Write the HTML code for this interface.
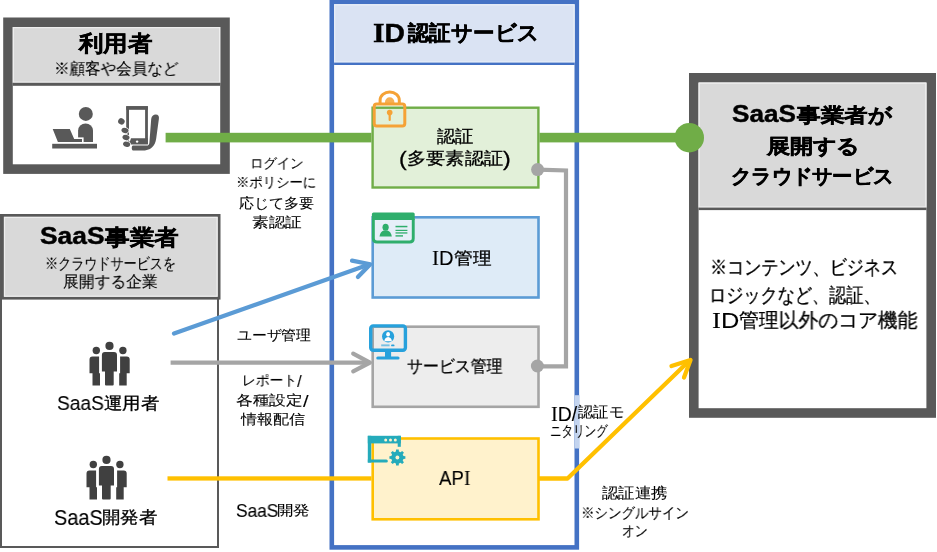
<!DOCTYPE html>
<html lang="ja">
<head>
<meta charset="utf-8">
<style>
html,body{margin:0;padding:0;background:#fff;}
body{width:937px;height:552px;position:relative;overflow:hidden;font-family:"Liberation Sans",sans-serif;color:#262626;}
svg{position:absolute;left:0;top:0;}
.t{will-change:transform;position:absolute;white-space:nowrap;line-height:1;transform-origin:0 0;color:#000;-webkit-text-stroke:0.1px #000;}
.b{font-weight:bold;color:#000;-webkit-text-stroke:0.45px #000;}
.s{font-family:"Liberation Serif",serif;font-size:1.05em;}
.p{font-size:1.2em;position:relative;top:0.1em;}
</style>
</head>
<body>
<svg width="937" height="552" viewBox="0 0 937 552">
  <!-- 利用者 box -->
  <rect x="8" y="22.3" width="217" height="146.8" fill="#fff" stroke="#595959" stroke-width="9.6"/>
  <rect x="12.8" y="27" width="207.4" height="56" fill="#d9d9d9"/>
  <rect x="13.4" y="27.6" width="206.2" height="54.6" fill="none" stroke="#eeeeee" stroke-width="1.2"/>
  <rect x="12.8" y="82.8" width="207.4" height="3" fill="#595959"/>

  <!-- SaaS事業者 box -->
  <rect x="1" y="215" width="217" height="332" fill="#fff" stroke="#595959" stroke-width="2"/>
  <rect x="2.5" y="215.4" width="216.6" height="82.8" fill="#d9d9d9" stroke="#595959" stroke-width="2.8"/>
  <rect x="4.5" y="217.4" width="212.6" height="78.8" fill="none" stroke="#eeeeee" stroke-width="1.2"/>

  <!-- ID service column -->
  <rect x="331.8" y="2" width="245" height="545.4" fill="#fff" stroke="#4472c4" stroke-width="4.6"/>
  <rect x="334.1" y="4.3" width="240.5" height="58.3" fill="#dae3f3"/>
  <rect x="334.7" y="4.9" width="239.3" height="57.1" fill="none" stroke="#e8eef8" stroke-width="1.2"/>
  <rect x="334.1" y="62.6" width="240.5" height="2.4" fill="#4472c4"/>

  <!-- right box -->
  <rect x="693.8" y="77.8" width="237.4" height="335.2" fill="#fff" stroke="#595959" stroke-width="9.6"/>
  <rect x="698.6" y="82.6" width="227.8" height="125" fill="#d9d9d9"/>
  <rect x="699.2" y="83.2" width="226.6" height="123.8" fill="none" stroke="#eeeeee" stroke-width="1.2"/>
  <rect x="698.6" y="207.6" width="227.8" height="2.5" fill="#595959"/>

  <!-- service boxes -->
  <rect x="372.6" y="107.7" width="165.8" height="79.8" fill="#e2f0d9" stroke="#70ad47" stroke-width="2.4"/>
  <rect x="372.7" y="217.3" width="165.8" height="80.2" fill="#deebf7" stroke="#5b9bd5" stroke-width="2.6"/>
  <rect x="372.7" y="326.7" width="165.8" height="80.1" fill="#ededed" stroke="#a5a5a5" stroke-width="2.6"/>
  <rect x="372.7" y="438.5" width="165.8" height="80.8" fill="#fff2cc" stroke="#ffc000" stroke-width="2.6"/>

  <!-- green line -->
  <rect x="165.6" y="132.8" width="205.8" height="9.6" fill="#70ad47"/>
  <rect x="539.5" y="132.8" width="150" height="9.6" fill="#70ad47"/>
  <circle cx="689.3" cy="137.7" r="14.7" fill="#70ad47"/>

  <!-- gray connector -->
  <polyline points="537.6,169.6 566,170.5 566,366.4 537.4,366.4" fill="none" stroke="#a5a5a5" stroke-width="4.2"/>
  <circle cx="537.6" cy="169.6" r="6.5" fill="#a5a5a5"/>
  <circle cx="537.4" cy="366" r="6.5" fill="#a5a5a5"/>

  <!-- blue arrow -->
  <line x1="174" y1="333.6" x2="369" y2="264.6" stroke="#5b9bd5" stroke-width="4.2" stroke-linecap="round"/>
  <polyline points="352,260.6 370.3,264.2 357.9,277" fill="none" stroke="#5b9bd5" stroke-width="4.2" stroke-linecap="round" stroke-linejoin="round"/>

  <!-- gray arrow -->
  <line x1="170.6" y1="362.6" x2="369" y2="362.6" stroke="#a5a5a5" stroke-width="4.2"/>
  <polyline points="353.2,353.6 370,362.6 353.2,371.3" fill="none" stroke="#a5a5a5" stroke-width="4.2" stroke-linecap="round" stroke-linejoin="round"/>

  <!-- yellow lines -->
  <rect x="167.5" y="476.3" width="204" height="4.3" fill="#ffc000"/>
  <polyline points="539,478.5 567.5,478.5 689,361" fill="none" stroke="#ffc000" stroke-width="4.3" stroke-linejoin="round"/>
  <polyline points="671.5,366 690.5,360 684,377.5" fill="none" stroke="#ffc000" stroke-width="4.3" stroke-linecap="round" stroke-linejoin="round"/>

  <rect x="574.6" y="395.2" width="5" height="53.3" fill="#c3d4ef"/>
  <!-- person at laptop -->
  <g fill="#595959">
    <circle cx="85.8" cy="113.9" r="7"/>
    <path d="M78.1,141.9 V130.6 A7.45,7.2 0 0 1 93,130.6 V141.9 Z"/>
    <rect x="77" y="137.4" width="6.6" height="5.5" fill="#fff"/>
    <path d="M52.7,129 L69.8,129 L74.2,138.9 L82,138.9 L82,141.9 L57.9,141.9 Z"/>
    <rect x="52.2" y="143.8" width="44.8" height="4.7"/>
  </g>
  <!-- phone in hand -->
  <g fill="#595959">
    <rect x="127.6" y="107.6" width="18.9" height="35.3" fill="none" stroke="#595959" stroke-width="2.8"/>
    <rect x="126.2" y="106.2" width="21.7" height="3.6"/>
    <path d="M131,138.3 H147.9 V144.3 H129 Z"/>
    <circle cx="137.1" cy="141.6" r="1.2" fill="#fff"/>
    <path d="M155.8,114.6 C158.3,114.6 159.3,116.6 158.9,118.8 L156.2,138.5 C155.2,146.5 150.5,150.6 142,150.6 L133,150.6 C131.5,150.6 131.3,145.6 133,145.6 L146.5,145.6 C148.5,145.6 149.3,144.6 149.4,142.5 L151.2,119 C151.6,116.3 153.3,114.6 155.8,114.6 Z"/>
    <g stroke="#fff" stroke-width="1.4" paint-order="stroke">
      <ellipse cx="121.4" cy="121.4" rx="3.3" ry="3.1" transform="rotate(30 121.4 121.4)"/>
      <ellipse cx="125" cy="130.4" rx="3.6" ry="2.6" transform="rotate(15 125 130.4)"/>
      <ellipse cx="126" cy="137.4" rx="3.6" ry="2.6" transform="rotate(15 126 137.4)"/>
      <ellipse cx="126.6" cy="144.3" rx="3.6" ry="2.6" transform="rotate(15 126.6 144.3)"/>
    </g>
  </g>
  <!-- people icons -->
  <g fill="#404040">
    <circle cx="96.3" cy="350.5" r="3.7"/>
    <path d="M89.5,373.3 V359.4 Q89.5,356.4 92.5,356.4 H99.1 V373.3 H92.5 V385.5 H100 V373.3 Z"/>
    <circle cx="122.9" cy="350.5" r="3.7"/>
    <path d="M129.7,373.3 V359.4 Q129.7,356.4 126.7,356.4 H120.1 V373.3 H126.7 V385.5 H119.2 V373.3 Z"/>
    <circle cx="109.5" cy="345.9" r="4.1"/>
    <path d="M101.9,371.4 V355.1 Q101.9,352.1 104.9,352.1 H114 Q117,352.1 117,355.1 V371.4 H113.7 V384.5 Q113.7,385.5 112.7,385.5 H106 Q105,385.5 105,384.5 V371.4 Z" stroke="#fff" stroke-width="1.6" paint-order="stroke"/>
  </g>
  <g fill="#404040" transform="translate(-3 114)">
    <circle cx="96.3" cy="350.5" r="3.7"/>
    <path d="M89.5,373.3 V359.4 Q89.5,356.4 92.5,356.4 H99.1 V373.3 H92.5 V385.5 H100 V373.3 Z"/>
    <circle cx="122.9" cy="350.5" r="3.7"/>
    <path d="M129.7,373.3 V359.4 Q129.7,356.4 126.7,356.4 H120.1 V373.3 H126.7 V385.5 H119.2 V373.3 Z"/>
    <circle cx="109.5" cy="345.9" r="4.1"/>
    <path d="M101.9,371.4 V355.1 Q101.9,352.1 104.9,352.1 H114 Q117,352.1 117,355.1 V371.4 H113.7 V384.5 Q113.7,385.5 112.7,385.5 H106 Q105,385.5 105,384.5 V371.4 Z" stroke="#fff" stroke-width="1.6" paint-order="stroke"/>
  </g>

  <!-- lock icon -->
  <g stroke="#f5a236" fill="none">
    <path d="M380.1,103 V100.3 A9.6,8.3 0 0 1 399.3,100.3 V103" stroke-width="3"/>
    <rect x="374.2" y="103.9" width="30.6" height="22.2" rx="2.5" stroke-width="3"/>
  </g>
  <g fill="#f5a236">
    <path d="M385,104.5 V102 A4.7,4.7 0 0 1 394.4,102 V104.5 Z" opacity="0.85"/>
    <circle cx="389.7" cy="112.6" r="2.8"/>
    <path d="M388.6,113 H390.8 V120 Q390.8,121 389.7,121 Q388.6,121 388.6,120 Z"/>
  </g>

  <!-- ID card icon -->
  <g>
    <path d="M373.35,219 V238.5 Q373.35,242.05 377,242.05 H409.7 Q413.25,242.05 413.25,238.5 V219" fill="#e6eff9" stroke="#2fae6c" stroke-width="2.9"/>
    <path d="M371.9,220 V214 Q371.9,212.4 373.5,212.4 H413.1 Q414.7,212.4 414.7,214 V220 Z" fill="#2fae6c"/>
    <ellipse cx="385.6" cy="227.3" rx="3.1" ry="3.5" fill="#2fae6c"/>
    <path d="M379.5,236.6 Q380.2,231.8 383.8,230.6 L387.4,230.6 Q391,231.8 391.8,236.6 Z" fill="#2fae6c"/>
    <g fill="#2fae6c">
      <rect x="395.5" y="225.8" width="11.9" height="1.5"/>
      <rect x="395.5" y="229.8" width="11.9" height="1.2"/>
      <rect x="395.5" y="232.3" width="11.9" height="1.3"/>
      <rect x="395.5" y="235.2" width="7.5" height="1.4"/>
    </g>
  </g>

  <!-- monitor icon -->
  <g>
    <rect x="370.7" y="325.9" width="34.7" height="24.4" rx="2.5" fill="none" stroke="#27a1dc" stroke-width="3.4"/>
    <rect x="385" y="351" width="6.1" height="6.5" fill="#27a1dc"/>
    <path d="M377.8,358.05 H398" stroke="#27a1dc" stroke-width="3.1" stroke-linecap="round"/>
    <circle cx="388.1" cy="336.4" r="6.1" fill="#27a1dc"/>
    <ellipse cx="388.1" cy="334.3" rx="1.9" ry="2.2" fill="#fff"/>
    <path d="M384.3,341.2 Q384.8,337.2 388.1,336.9 Q391.4,337.2 391.9,341.2 Z" fill="#fff"/>
    <rect x="381.2" y="344.4" width="8.4" height="1.9" fill="#27a1dc" opacity="0.6"/>
    <rect x="391.1" y="344.4" width="3.4" height="1.9" rx="0.9" fill="#27a1dc"/>
  </g>

  <!-- API icon -->
  <g fill="#25abbb">
    <rect x="367.8" y="435.8" width="33" height="7.6"/>
    <rect x="367.8" y="435.8" width="3.4" height="26.8"/>
    <path d="M367.8,459.5 H386.3 A1.55,1.55 0 0 1 386.3,462.6 H367.8 Z"/>
    <rect x="397.7" y="435.8" width="3.1" height="11"/>
    <circle cx="385.7" cy="439.9" r="1.5" fill="#fff2cc"/>
    <circle cx="390.5" cy="439.9" r="1.5" fill="#fff2cc"/>
    <circle cx="395.3" cy="439.9" r="1.5" fill="#fff2cc"/>
    <path d="M395.91,451.48 L396.07,449.51 L398.73,449.51 L398.89,451.48 L400.60,452.19 L402.11,450.91 L403.99,452.79 L402.71,454.30 L403.42,456.01 L405.39,456.17 L405.39,458.83 L403.42,458.99 L402.71,460.70 L403.99,462.21 L402.11,464.09 L400.60,462.81 L398.89,463.52 L398.73,465.49 L396.07,465.49 L395.91,463.52 L394.20,462.81 L392.69,464.09 L390.81,462.21 L392.09,460.70 L391.38,458.99 L389.41,458.83 L389.41,456.17 L391.38,456.01 L392.09,454.30 L390.81,452.79 L392.69,450.91 L394.20,452.19Z" stroke="#fff2cc" stroke-width="1.6" paint-order="stroke"/>
    <circle cx="397.4" cy="457.5" r="1.9" fill="#fff2cc"/>
  </g>
</svg>

<div id="t0" class="t b" style="left:78.86px;top:34.06px;font-size:21.52px;transform:scaleX(1.1130)">利用者</div>
<div id="t1" class="t" style="left:53.96px;top:60.98px;font-size:15.86px;transform:scaleX(0.9719)">※顧客や会員など</div>
<div id="t2" class="t b" style="left:39.59px;top:224.59px;font-size:23.09px;transform:scaleX(1.1416)">SaaS</div>
<div id="t3" class="t b" style="left:104.83px;top:227.72px;font-size:21.52px;transform:scaleX(1.1177)">事業者</div>
<div id="t4" class="t" style="left:45.27px;top:256.30px;font-size:15.86px;transform:scaleX(0.8185)">※クラウドサービスを</div>
<div id="t5" class="t" style="left:62.73px;top:274.26px;font-size:15.86px;transform:scaleX(0.9864)">展開する企業</div>
<div id="t6" class="t" style="left:56.91px;top:392.52px;font-size:20.31px;transform:scaleX(0.9465)">SaaS</div>
<div id="t7" class="t" style="-webkit-text-stroke:0.3px #000;left:104.00px;top:394.78px;font-size:16.50px;transform:scaleX(1.0838)">運用者</div>
<div id="t8" class="t" style="left:53.54px;top:507.38px;font-size:21.21px;transform:scaleX(0.9378)">SaaS</div>
<div id="t9" class="t" style="-webkit-text-stroke:0.3px #000;left:101.78px;top:509.24px;font-size:16.50px;transform:scaleX(1.0857)">開発者</div>
<div id="t10" class="t" style="left:249.96px;top:156.11px;font-size:14.00px;transform:scaleX(0.9564)">ログイン</div>
<div id="t11" class="t" style="left:235.76px;top:175.02px;font-size:14.00px;transform:scaleX(0.9546)">※ポリシーに</div>
<div id="t12" class="t" style="left:238.60px;top:196.21px;font-size:14.00px;transform:scaleX(1.0754)">応じて多要</div>
<div id="t13" class="t" style="left:251.80px;top:215.31px;font-size:14.00px;transform:scaleX(1.1898)">素認証</div>
<div id="t14" class="t" style="left:237.00px;top:327.97px;font-size:14.00px;transform:scaleX(1.0591)">ユーザ管理</div>
<div id="t15" class="t" style="left:241.76px;top:371.50px;font-size:14.00px;transform:scaleX(0.9840)">レポート<span class="p">/</span></div>
<div id="t16" class="t" style="left:236.00px;top:392.22px;font-size:14.00px;transform:scaleX(1.1951)">各種設定<span class="p">/</span></div>
<div id="t17" class="t" style="left:241.41px;top:411.77px;font-size:14.00px;transform:scaleX(1.1476)">情報配信</div>
<div id="t18" class="t" style="left:236.34px;top:502.71px;font-size:17.63px;transform:scaleX(0.9838)">SaaS</div>
<div id="t19" class="t" style="left:277.47px;top:502.64px;font-size:14.00px;transform:scaleX(1.1741)">開発</div>
<div id="t20" class="t b" style="left:372.96px;top:19.00px;font-size:26.60px;transform:scaleX(1.0630)"><span class="s">I</span>D</div>
<div id="t21" class="t b" style="left:407.99px;top:23.48px;font-size:20.50px;transform:scaleX(1.0217)">認証サービス</div>
<div id="t22" class="t" style="-webkit-text-stroke:0.3px #000;left:437.26px;top:128.11px;font-size:17.00px;transform:scaleX(1.0824)">認証</div>
<div id="t23" class="t" style="-webkit-text-stroke:0.3px #000;left:398.73px;top:146.86px;font-size:17.00px;transform:scaleX(1.1333)"><span class="p">(</span>多要素認証<span class="p">)</span></div>
<div id="t24" class="t" style="left:432.43px;top:247.53px;font-size:19.76px;transform:scaleX(1.0220)"><span class="s">I</span>D</div>
<div id="t25" class="t" style="-webkit-text-stroke:0.3px #000;left:454.46px;top:249.54px;font-size:17.00px;transform:scaleX(1.0962)">管理</div>
<div id="t26" class="t" style="-webkit-text-stroke:0.3px #000;left:406.58px;top:358.30px;font-size:17.00px;transform:scaleX(0.9359)">サービス管理</div>
<div id="t27" class="t" style="left:439.10px;top:467.64px;font-size:20.35px;transform:scaleX(0.9170)">AP<span class="s">I</span></div>
<div id="t28" class="t b" style="left:731.76px;top:102.35px;font-size:24.51px;transform:scaleX(1.0660)">SaaS</div>
<div id="t29" class="t b" style="left:796.61px;top:105.60px;font-size:19.70px;transform:scaleX(1.1787)">事業者が</div>
<div id="t30" class="t b" style="left:767.30px;top:137.49px;font-size:19.70px;transform:scaleX(1.1545)">展開する</div>
<div id="t31" class="t b" style="left:730.54px;top:167.48px;font-size:19.70px;transform:scaleX(1.0149)">クラウドサービス</div>
<div id="t32" class="t" style="-webkit-text-stroke:0.3px #000;left:710.12px;top:257.37px;font-size:20.36px;transform:scaleX(0.8546)">※コンテンツ、ビジネス</div>
<div id="t33" class="t" style="-webkit-text-stroke:0.3px #000;left:709.17px;top:285.34px;font-size:20.36px;transform:scaleX(0.8582)">ロジックなど、認証、</div>
<div id="t34" class="t" style="left:712.15px;top:308.78px;font-size:22.62px;transform:scaleX(1.1230)"><span class="s">I</span>D</div>
<div id="t35" class="t" style="-webkit-text-stroke:0.3px #000;left:739.00px;top:310.16px;font-size:20.36px;transform:scaleX(0.9914)">管理以外のコア機能</div>
<div id="t36" class="t" style="left:550.85px;top:404.32px;font-size:19.36px;transform:scaleX(1.0061)"><span class="s">I</span>D/</div>
<div id="t37" class="t" style="left:577.52px;top:405.16px;font-size:14.90px;transform:scaleX(1.0177)">認証モ</div>
<div id="t38" class="t" style="left:550.08px;top:423.63px;font-size:14.90px;transform:scaleX(0.7687)">ニタリング</div>
<div id="t39" class="t" style="left:601.81px;top:486.39px;font-size:14.90px;transform:scaleX(1.0961)">認証連携</div>
<div id="t40" class="t" style="left:581.21px;top:505.51px;font-size:14.90px;transform:scaleX(0.8989)">※シングルサイン</div>
<div id="t41" class="t" style="left:621.96px;top:524.05px;font-size:14.90px;transform:scaleX(0.8546)">オン</div>
</body>
</html>
